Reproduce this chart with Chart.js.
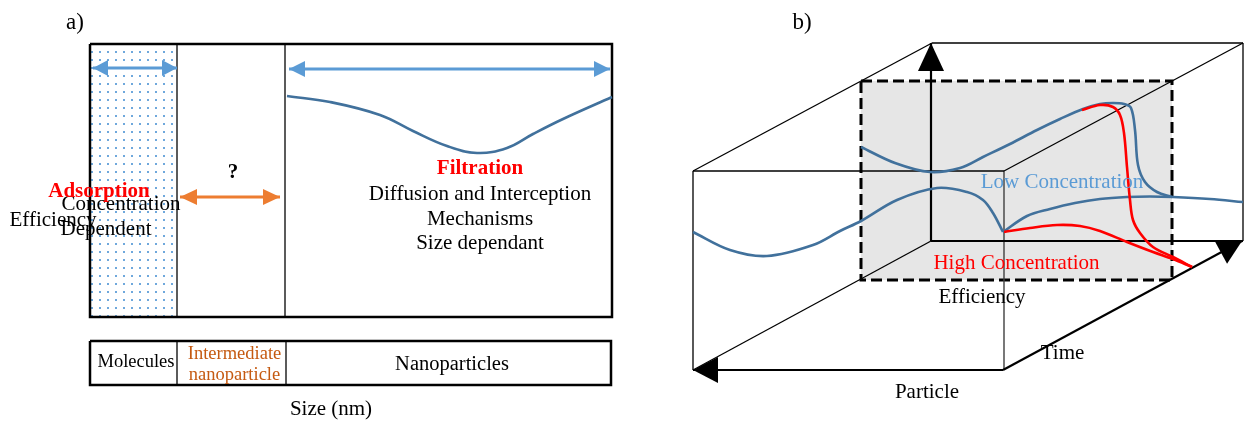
<!DOCTYPE html>
<html>
<head>
<meta charset="utf-8">
<script src="https://cdn.jsdelivr.net/npm/chart.js@4.4.1/dist/chart.umd.min.js"></script>
<style>
  html, body { margin: 0; padding: 0; background: #fff; }
  #wrap { width: 1244px; height: 421px; }
</style>
</head>
<body>
<div id="wrap"><canvas id="diagram"></canvas></div>
<script>
// figure units: x 0..1244 across, y 0..421 downwards

// ---- panel a) efficiency vs size ----
const frameA = [[90, 44], [612, 44], [612, 317], [90, 317], [90, 44]];
const adsorptionBand = [[91, 45], [177, 45], [177, 316], [91, 316]];
const bandDividers = [[[177, 44], [177, 317]], [[285, 44], [285, 317]]];
const adsorptionRange = [[93, 68], [177, 68]];
const intermediateRange = [[180, 197], [280, 197]];
const filtrationRange = [[289, 69], [610, 69]];
const filtrationCurve = [[287, 96], [330, 102], [380, 115], [413, 131], [447, 146], [477, 153],
  [507, 148], [533, 134], [563, 119], [612, 97]];
const sizeStrip = [[90, 341], [611, 341], [611, 385], [90, 385], [90, 341]];
const stripDividers = [[[177, 341], [177, 385]], [[286, 341], [286, 385]]];

// ---- panel b) efficiency / particle / time ----
const shadedPlane = [[861, 81], [1172, 81], [1172, 280], [861, 280], [861, 81]];
const boxEdges = [
  [[693, 171], [1004, 171]], [[693, 171], [693, 370]], [[693, 171], [932, 43]],
  [[932, 43], [1243, 43]], [[1243, 43], [1243, 241]], [[1004, 171], [1243, 43]],
  [[693, 370], [931, 241]]
];
const frontRightEdge = [[1004, 171], [1004, 370]];
const efficiencyAxis = [[931, 241], [931, 43]];
const backBaseAxis = [[931, 241], [1243, 241]];
const timeAxis = [[1003, 370], [1242, 241]];
const particleAxis = [[1003, 370], [693, 370]];

const lowConcBack = [[861, 147], [895, 163], [930, 172], [960, 168], [983, 157], [1010, 144],
  [1037, 130], [1060, 119], [1083, 109], [1100, 104], [1113, 103], [1124, 104], [1131, 108],
  [1135, 130], [1138, 165], [1145, 182], [1157, 192], [1172, 197]];
const frontCurve = [[693, 232], [730, 250], [767, 256], [813, 245], [840, 231], [861, 221],
  [897, 200], [937, 188], [967, 192], [983, 200], [993, 213], [1003, 232]];
const lowConcRise = [[1003, 232], [1027, 216], [1050, 209], [1075, 203], [1100, 199], [1127, 197],
  [1150, 196.5], [1173, 197], [1210, 199], [1243, 202]];
const highConcDrop = [[1082, 110], [1100, 105], [1113, 107], [1120, 115], [1124, 133], [1127, 167],
  [1130, 200], [1133, 220], [1140, 233], [1153, 247], [1173, 257], [1192, 267]];
const highConcFlat = [[1004, 232], [1030, 228], [1057, 225], [1080, 226], [1100, 231], [1127, 242],
  [1153, 252], [1173, 259], [1192, 267]];

// ---- texts ----
const panelTags = ['a)', 'b)'];
const mechanismTitles = ['Adsorption', 'Filtration', '?'];
const adsorptionNotes = ['Concentration', 'Dependent'];
const filtrationNotes = ['Diffusion and Interception', 'Mechanisms', 'Size dependant'];
const sizeClasses = ['Molecules', 'Intermediate', 'nanoparticle', 'Nanoparticles'];
const axisNames = ['Efficiency', 'Size (nm)', 'Efficiency', 'Time', 'Particle'];
const curveNames = ['Low Concentration', 'High Concentration'];

const pts = arr => arr.map(([x, y]) => ({ x, y }));

function series(data, style) {
  return Object.assign({
    data: pts(data), pointRadius: 0, pointHoverRadius: 0, borderCapStyle: 'butt',
    borderJoinStyle: 'miter', fill: false, clip: false, tension: 0
  }, style);
}

function dotPattern() {
  const c = document.createElement('canvas');
  c.width = 8; c.height = 8;
  const g = c.getContext('2d');
  g.fillStyle = '#6FA8DC';
  g.fillRect(3, 3, 2, 2);
  return g.createPattern(c, 'repeat');
}

const STEEL = '#41719C';
const LIGHTBLUE = '#5B9BD5';
const ORANGE = '#ED7D31';

const datasets = [
  // backgrounds
  series(adsorptionBand, { backgroundColor: dotPattern(), borderWidth: 0, fill: 'shape', order: 20 }),
  series(shadedPlane, { backgroundColor: '#E6E6E6', borderColor: '#000', borderWidth: 3,
    borderDash: [11, 5], fill: 'shape', order: 20 }),

  // panel a frames
  series(frameA, { borderColor: '#000', borderWidth: 2.5, order: 10 }),
  ...bandDividers.map(d => series(d, { borderColor: '#333', borderWidth: 1.6, order: 10 })),
  series(sizeStrip, { borderColor: '#000', borderWidth: 2.5, order: 10 }),
  ...stripDividers.map(d => series(d, { borderColor: '#333', borderWidth: 1.6, order: 10 })),

  // panel a arrows + curve
  series(adsorptionRange, { borderColor: LIGHTBLUE, borderWidth: 3, arrowHead: { start: true, end: true, len: 15, half: 8 }, order: 5 }),
  series(filtrationRange, { borderColor: LIGHTBLUE, borderWidth: 3, arrowHead: { start: true, end: true, len: 16, half: 8 }, order: 5 }),
  series(intermediateRange, { borderColor: ORANGE, borderWidth: 3, arrowHead: { start: true, end: true, len: 17, half: 8 }, order: 5 }),
  series(filtrationCurve, { borderColor: STEEL, borderWidth: 2.6, tension: 0.4, order: 4 }),

  // panel b box
  ...boxEdges.map(d => series(d, { borderColor: '#000', borderWidth: 1.3, order: 10 })),
  series(frontRightEdge, { borderColor: '#404040', borderWidth: 1.4, order: 10 }),
  series(efficiencyAxis, { borderColor: '#000', borderWidth: 2.2, arrowHead: { end: true, len: 28, half: 13 }, order: 9 }),
  series(backBaseAxis, { borderColor: '#000', borderWidth: 2.2, order: 9 }),
  series(timeAxis, { borderColor: '#000', borderWidth: 2.2, arrowHead: { end: true, len: 24, half: 13 }, order: 9 }),
  series(particleAxis, { borderColor: '#000', borderWidth: 2.2, arrowHead: { end: true, len: 25, half: 13 }, order: 9 }),

  // panel b curves
  series(lowConcBack, { borderColor: STEEL, borderWidth: 2.6, tension: 0.35, order: 3 }),
  series(frontCurve, { borderColor: STEEL, borderWidth: 2.6, tension: 0.35, order: 3 }),
  series(lowConcRise, { borderColor: STEEL, borderWidth: 2.6, tension: 0.35, order: 3 }),
  series(highConcFlat, { borderColor: '#FF0000', borderWidth: 2.6, tension: 0.35, order: 2 }),
  series(highConcDrop, { borderColor: '#FF0000', borderWidth: 2.6, tension: 0.35, order: 2 })
];

const SERIF = '"Liberation Serif", "Times New Roman", serif';
const labels = [
  { t: panelTags[0], x: 75, y: 23, size: 23 },
  { t: panelTags[1], x: 802, y: 23, size: 23 },
  { t: axisNames[0], x: 53, y: 220 },
  { t: adsorptionNotes[0], x: 121, y: 204 },
  { t: mechanismTitles[0], x: 99, y: 192, bold: true, color: '#FF0000' },
  { t: adsorptionNotes[1], x: 106, y: 229 },
  { t: mechanismTitles[2], x: 233, y: 173, bold: true },
  { t: mechanismTitles[1], x: 480, y: 169, bold: true, color: '#FF0000' },
  { t: filtrationNotes[0], x: 480, y: 194 },
  { t: filtrationNotes[1], x: 480, y: 219 },
  { t: filtrationNotes[2], x: 480, y: 243 },
  { t: sizeClasses[0], x: 136, y: 362, size: 18.5 },
  { t: sizeClasses[1], x: 234.5, y: 354, size: 18.5, color: '#C55A11' },
  { t: sizeClasses[2], x: 234.5, y: 375.5, size: 18.5, color: '#C55A11' },
  { t: sizeClasses[3], x: 452, y: 365, size: 20.5 },
  { t: axisNames[1], x: 331, y: 409 },
  { t: curveNames[0], x: 1062, y: 182, color: LIGHTBLUE },
  { t: curveNames[1], x: 1016.5, y: 263, color: '#FF0000' },
  { t: axisNames[2], x: 982, y: 297 },
  { t: axisNames[3], x: 1062.5, y: 353 },
  { t: axisNames[4], x: 927, y: 392 }
];

const arrowHeads = {
  id: 'arrowHeads',
  afterDatasetsDraw(chart) {
    const ctx = chart.ctx;
    chart.data.datasets.forEach((ds, i) => {
      const head = ds.arrowHead;
      if (!head) return;
      const p = chart.getDatasetMeta(i).data;
      const draw = (tip, from) => {
        const ang = Math.atan2(tip.y - from.y, tip.x - from.x);
        ctx.save();
        ctx.translate(tip.x, tip.y);
        ctx.rotate(ang);
        ctx.beginPath();
        ctx.moveTo(0, 0);
        ctx.lineTo(-head.len, -head.half);
        ctx.lineTo(-head.len, head.half);
        ctx.closePath();
        ctx.fillStyle = ds.borderColor;
        ctx.fill();
        ctx.restore();
      };
      if (head.end) draw(p[p.length - 1], p[p.length - 2]);
      if (head.start) draw(p[0], p[1]);
    });
  }
};

const textLabels = {
  id: 'textLabels',
  afterDatasetsDraw(chart) {
    const { ctx, scales: { x, y } } = chart;
    ctx.save();
    ctx.textAlign = 'center';
    ctx.textBaseline = 'middle';
    labels.forEach(l => {
      ctx.font = (l.bold ? 'bold ' : '') + (l.size || 21) + 'px ' + SERIF;
      ctx.fillStyle = l.color || '#000';
      ctx.fillText(l.t, x.getPixelForValue(l.x), y.getPixelForValue(l.y));
    });
    ctx.restore();
  }
};

new Chart(document.getElementById('diagram'), {
  type: 'line',
  data: { datasets },
  options: {
    responsive: true,
    maintainAspectRatio: false,
    animation: false,
    events: [],
    layout: { padding: 0 },
    plugins: { legend: { display: false }, tooltip: { enabled: false } },
    scales: {
      x: { type: 'linear', min: 0, max: 1244, display: false },
      y: { type: 'linear', min: 0, max: 421, reverse: true, display: false }
    }
  },
  plugins: [arrowHeads, textLabels]
});
</script>
</body>
</html>
